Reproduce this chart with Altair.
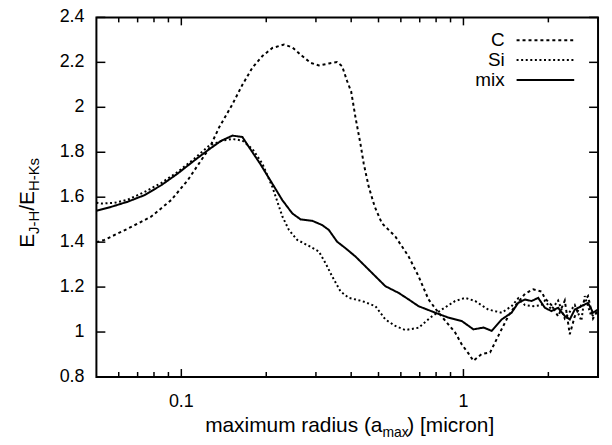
import altair as alt
import pandas as pd

# ---- data ----
series_names = ["C", "Si", "mix"]

c_x = [0.050, 0.0534, 0.0646, 0.0781, 0.0920, 0.1053, 0.1174, 0.1256, 0.1362, 0.1518,
       0.1646, 0.1786, 0.1938, 0.2102, 0.2312, 0.2473, 0.2683, 0.2873, 0.3073, 0.3334,
       0.3566, 0.3715, 0.3869, 0.400, 0.4143, 0.4315, 0.4432, 0.4616, 0.485, 0.5142,
       0.5737, 0.6393, 0.6934, 0.7520, 0.8160, 0.9347, 0.9863, 1.0416, 1.0847, 1.1606,
       1.243, 1.329, 1.442, 1.523, 1.652, 1.767, 1.891, 1.944, 2.051, 2.166,
       2.287, 2.382, 2.481, 2.618, 2.765, 2.880, 3.0]
c_y = [1.40, 1.41, 1.46, 1.513, 1.587, 1.675, 1.763, 1.817, 1.911, 2.014,
       2.10, 2.176, 2.228, 2.264, 2.279, 2.267, 2.228, 2.198, 2.186, 2.195,
       2.201, 2.183, 2.117, 2.07, 1.955, 1.837, 1.749, 1.646, 1.557, 1.484,
       1.425, 1.336, 1.248, 1.145, 1.086, 0.998, 0.945, 0.905, 0.872, 0.902,
       0.909, 0.983, 1.071, 1.115, 1.17, 1.19, 1.18, 1.15, 1.12, 1.07,
       1.14, 0.99, 1.07, 1.12, 1.16, 1.06, 1.10]

si_x = [0.050, 0.0520, 0.0580, 0.0646, 0.0740, 0.0848, 0.0970, 0.1111, 0.1256, 0.1400,
        0.1518, 0.1646, 0.1786, 0.1938, 0.2102, 0.2280, 0.2407, 0.2576, 0.2834, 0.3073,
        0.3245, 0.3424, 0.3667, 0.3923, 0.4372, 0.4875, 0.5287, 0.5737, 0.6223, 0.6934,
        0.7626, 0.8381, 0.9347, 1.0139, 1.0999, 1.225, 1.366, 1.481, 1.564, 1.652,
        1.767, 1.891, 1.944, 2.051, 2.166, 2.287, 2.382, 2.481, 2.618, 2.692,
        2.841, 3.0]
si_y = [1.575, 1.572, 1.575, 1.589, 1.623, 1.663, 1.712, 1.771, 1.83, 1.852,
        1.859, 1.852, 1.815, 1.749, 1.646, 1.515, 1.454, 1.41, 1.383, 1.358,
        1.306, 1.248, 1.181, 1.152, 1.138, 1.115, 1.056, 1.027, 1.009, 1.019,
        1.064, 1.10, 1.138, 1.152, 1.138, 1.10, 1.086, 1.115, 1.15, 1.12,
        1.115, 1.12, 1.14, 1.10, 1.14, 1.06, 1.09, 1.12, 1.05, 1.16,
        1.07, 1.09]

mix_x = [0.050, 0.0564, 0.0646, 0.0740, 0.0848, 0.0970, 0.1111, 0.1239, 0.1380, 0.1518,
         0.1646, 0.1739, 0.1900, 0.2102, 0.2280, 0.2473, 0.2649, 0.2911, 0.3157, 0.3334,
         0.3566, 0.3819, 0.4143, 0.4495, 0.5287, 0.5894, 0.6393, 0.6934, 0.7943, 0.8851,
         0.9863, 1.0847, 1.180, 1.259, 1.366, 1.481, 1.564, 1.652, 1.743, 1.841,
         1.944, 2.051, 2.166, 2.287, 2.382, 2.481, 2.618, 2.765, 2.880, 3.0]
mix_y = [1.54, 1.557, 1.58, 1.609, 1.653, 1.705, 1.763, 1.808, 1.850, 1.874,
         1.868, 1.822, 1.75, 1.66, 1.587, 1.528, 1.501, 1.495, 1.476, 1.454,
         1.402, 1.373, 1.336, 1.292, 1.204, 1.174, 1.145, 1.115, 1.086, 1.064,
         1.049, 1.012, 1.02, 1.005, 1.056, 1.086, 1.130, 1.145, 1.138, 1.152,
         1.108, 1.093, 1.108, 1.071, 1.056, 1.100, 1.115, 1.130, 1.086, 1.10]

x_major = [0.1, 1]
x_major_labels = ["0.1", "1"]
x_minor = [0.06, 0.07, 0.08, 0.09, 0.2, 0.3, 0.4, 0.5, 0.6, 0.7, 0.8, 0.9, 2, 3]
y_ticks = [0.8, 1.0, 1.2, 1.4, 1.6, 1.8, 2.0, 2.2, 2.4]
y_tick_labels = ["0.8", "1", "1.2", "1.4", "1.6", "1.8", "2", "2.2", "2.4"]

x_title_main = "maximum radius (a"
x_title_sub = "max"
x_title_end = ") [micron]"
y_title_parts = ["E", "J-H", "/E", "H-Ks"]

# ---- build ----
W, H = 505, 362
FONT = "Liberation Sans"

df = pd.concat([
    pd.DataFrame({"x": c_x, "y": c_y, "series": "C"}),
    pd.DataFrame({"x": si_x, "y": si_y, "series": "Si"}),
    pd.DataFrame({"x": mix_x, "y": mix_y, "series": "mix"}),
], ignore_index=True)

xscale = alt.Scale(type="log", domain=[0.05, 3.0], nice=False)
yscale = alt.Scale(domain=[0.8, 2.4], nice=False)

dashes = {"C": [3, 3], "Si": [2, 2.6], "mix": [1, 0]}

base = alt.Chart(df)

lab = dict(grid=False, domain=False, ticks=False, title=None,
           labelFont=FONT, labelFontSize=18, labelColor="black",
           labelExpr="format(datum.value, '~g')")

layers = []
for i, name in enumerate(series_names):
    if i == 0:
        xa = alt.Axis(orient="bottom", values=x_major, labelPadding=12, **lab)
        ya = alt.Axis(orient="left", values=y_ticks, labelPadding=12, **lab)
    else:
        xa = None
        ya = None
    ln = base.transform_filter(alt.datum.series == name).mark_line(
        color="black", strokeWidth=2, strokeDash=dashes[name], clip=True
    ).encode(
        x=alt.X("x:Q", scale=xscale, axis=xa),
        y=alt.Y("y:Q", scale=yscale, axis=ya),
    )
    layers.append(ln)

# inward ticks on all four sides (gnuplot style), placed by the scales
tx_major = alt.Chart(pd.DataFrame({"v": x_major}))
tx_minor = alt.Chart(pd.DataFrame({"v": x_minor}))
ty = alt.Chart(pd.DataFrame({"v": y_ticks}))
rule = dict(color="black", strokeWidth=1.5)
for src, ln_ in ((tx_major, 8), (tx_minor, 5)):
    xs = alt.X("v:Q", scale=xscale, axis=None)
    layers.append(src.mark_rule(**rule).encode(x=xs, y=alt.value(H), y2=alt.value(H - ln_)))
    layers.append(src.mark_rule(**rule).encode(x=xs, y=alt.value(0), y2=alt.value(ln_)))
ys = alt.Y("v:Q", scale=yscale, axis=None)
layers.append(ty.mark_rule(**rule).encode(y=ys, x=alt.value(0), x2=alt.value(9)))
layers.append(ty.mark_rule(**rule).encode(y=ys, x=alt.value(W), x2=alt.value(W - 9)))

one = alt.Chart(pd.DataFrame({"k": [0]}))

# legend (gnuplot style: label left of sample)
leg_rows = [23, 43, 63]
for name, yy in zip(series_names, leg_rows):
    layers.append(one.mark_text(text=name, align="right", baseline="middle", font=FONT,
                                fontSize=19, color="black")
                  .encode(x=alt.value(411), y=alt.value(yy)))
    layers.append(one.mark_rule(color="black", strokeWidth=2, strokeDash=dashes[name])
                  .encode(x=alt.value(423), x2=alt.value(481), y=alt.value(yy)))

# x title with subscript
layers.append(one.mark_text(text=x_title_main, align="right", baseline="alphabetic",
                            font=FONT, fontSize=21, color="black")
              .encode(x=alt.value(288), y=alt.value(417)))
layers.append(one.mark_text(text=x_title_sub, align="left", baseline="alphabetic",
                            font=FONT, fontSize=14, color="black")
              .encode(x=alt.value(288), y=alt.value(422)))
layers.append(one.mark_text(text=x_title_end, align="left", baseline="alphabetic",
                            font=FONT, fontSize=21, color="black")
              .encode(x=alt.value(313), y=alt.value(417)))

# y title with subscripts (rotated, reading upward)
big, small = 21, 15
widths = [0.667 * big, 1.555 * small, 0.945 * big, 2.222 * small]
ystart = 232
xbase = -63
pos = ystart
for j, (part, wdt) in enumerate(zip(y_title_parts, widths)):
    is_sub = j % 2 == 1
    layers.append(one.mark_text(text=part, align="left", baseline="alphabetic", angle=270,
                                font=FONT, fontSize=small if is_sub else big, color="black")
                  .encode(x=alt.value(xbase + (5 if is_sub else 0)), y=alt.value(pos)))
    pos -= wdt

# tick labels as text, placed by the scales
lb_x = alt.Chart(pd.DataFrame({"lx": x_major, "lt": x_major_labels}))
lb_y = alt.Chart(pd.DataFrame({"ly": y_ticks, "lt": y_tick_labels}))
layers.append(lb_x.mark_text(align="center", baseline="alphabetic", font=FONT,
                             fontSize=18, color="black")
              .encode(x=alt.X("lx:Q", scale=xscale, axis=None), y=alt.value(H + 30),
                      text="lt:N"))
layers.append(lb_y.mark_text(align="right", baseline="middle", font=FONT,
                             fontSize=18, color="black")
              .encode(y=alt.Y("ly:Q", scale=yscale, axis=None), x=alt.value(-12),
                      text="lt:N"))

chart = alt.layer(*layers).properties(
    width=W, height=H,
    autosize=alt.AutoSizeParams(type="none"),
    padding={"left": 89, "top": 8, "right": 6, "bottom": 66},
    background="white",
).configure_view(stroke="black", strokeWidth=2)

chart.save("out.html", embed_options={"renderer": "svg", "actions": False})
